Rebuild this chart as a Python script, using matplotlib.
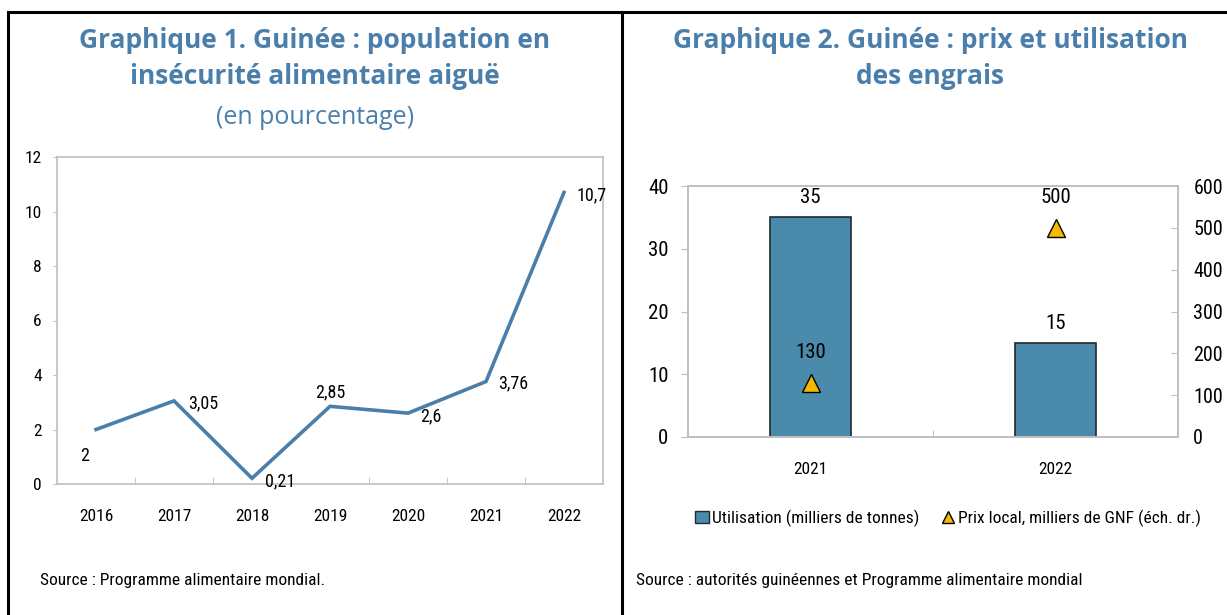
import matplotlib
matplotlib.use("Agg")
import matplotlib.pyplot as plt
import matplotlib.font_manager as fm
from matplotlib.lines import Line2D
from matplotlib.patches import Patch

# graphique 1
years1 = ["2016", "2017", "2018", "2019", "2020", "2021", "2022"]
insecurity = [2, 3.05, 0.21, 2.85, 2.6, 3.76, 10.7]
insecurity_labels = ["2", "3,05", "0,21", "2,85", "2,6", "3,76", "10,7"]

# graphique 2
years2 = ["2021", "2022"]
usage = [35, 15]
price = [130, 500]

TITLE_COLOR = "#4a7fab"
LINE_COLOR = "#4a7fab"
BAR_COLOR = "#4a8aaa"
TRI_COLOR = "#f5b800"
SPINE_COLOR = "#bfbfbf"
TITLE_FONT = ["Open Sans", "DejaVu Sans"]


def find_narrow():
    # look for some condensed sans face; the reference uses an Arial Narrow look
    entries = fm.fontManager.ttflist
    wanted = ["Liberation Sans Narrow", "Arial Narrow", "Roboto Condensed",
              "Open Sans Condensed", "Noto Sans Condensed", "DejaVu Sans Condensed"]
    for w in wanted:
        for f in entries:
            if f.name == w and f.weight in (400, "normal", "regular") and f.style == "normal":
                return f.fname
    for f in entries:
        low = (f.name + " " + f.fname).lower()
        if ("narrow" in low or "condensed" in low) and "bold" not in low \
                and "italic" not in low and "oblique" not in low:
            return f.fname
    return None


NARROW_PATH = find_narrow()


def narrow(size):
    if NARROW_PATH:
        return fm.FontProperties(fname=NARROW_PATH, size=size)
    return fm.FontProperties(family="DejaVu Sans", stretch="condensed", size=size)


W, H = 1227, 615
fig = plt.figure(figsize=(W / 100, H / 100), dpi=100)


def px_axes(x0, y0, x1, y1):
    return fig.add_axes([x0 / W, 1 - y1 / H, (x1 - x0) / W, (y1 - y0) / H])


def style_axes(ax):
    for s in ax.spines.values():
        s.set_color(SPINE_COLOR)
        s.set_linewidth(1.2)
    ax.tick_params(colors=SPINE_COLOR, labelcolor="black", length=4)


def set_tick_font(labels, size):
    for lab in labels:
        lab.set_fontproperties(narrow(size))


# frame lines
frame = fig.add_axes([0, 0, 1, 1])
frame.set_xlim(0, W)
frame.set_ylim(H, 0)
frame.axis("off")
frame.plot([8, W], [12, 12], color="black", lw=2.2)
frame.plot([8, 8], [12, H], color="black", lw=2.2)
frame.plot([622, 622], [12, H], color="black", lw=2.2)

# titles
title_kw = dict(ha="center", va="center", fontsize=19, fontweight="bold",
                color=TITLE_COLOR, family=TITLE_FONT)
fig.text(315 / W, 1 - 40 / H, "Graphique 1. Guinée : population en", **title_kw)
fig.text(315 / W, 1 - 76 / H, "insécurité alimentaire aiguë", **title_kw)
fig.text(315 / W, 1 - 118 / H, "(en pourcentage)", ha="center", va="center",
         fontsize=18, color=TITLE_COLOR, family=TITLE_FONT)
fig.text(930 / W, 1 - 40 / H, "Graphique 2. Guinée : prix et utilisation", **title_kw)
fig.text(930 / W, 1 - 76 / H, "des engrais", **title_kw)

# sources
fig.text(40 / W, 1 - 580 / H, "Source : Programme alimentaire mondial.", ha="left", va="center",
         fontproperties=narrow(12.5))
fig.text(636 / W, 1 - 580 / H, "Source : autorités guinéennes et Programme alimentaire mondial",
         ha="left", va="center", fontproperties=narrow(12.5))

# --- chart 1: line
ax1 = px_axes(57, 157, 603, 484)
x1 = list(range(len(years1)))
ax1.plot(x1, insecurity, color=LINE_COLOR, lw=2.6, solid_joinstyle="miter")
ax1.set_xlim(-0.5, len(years1) - 0.5)
ax1.set_ylim(0, 12)
ax1.set_yticks(range(0, 13, 2))
ax1.set_xticks(x1)
ax1.set_xticklabels(years1)
ax1.set_xticks([i + 0.5 for i in x1[:-1]], minor=True)
style_axes(ax1)
ax1.tick_params(axis="x", which="major", length=0, pad=18)
ax1.tick_params(axis="x", which="minor", length=5, direction="in", colors=SPINE_COLOR)
ax1.tick_params(axis="y", length=3, direction="out", pad=8)
set_tick_font(ax1.get_xticklabels() + ax1.get_yticklabels(), 12.5)
offsets = [(-8, -19), (10, -2), (9, -2), (0, 10), (9, -2), (9, -1), (9, -2)]
for xi, yi, lab, (dx, dy) in zip(x1, insecurity, insecurity_labels, offsets):
    ha = "center" if dx <= 0 else "left"
    ax1.annotate(lab, (xi, yi), xytext=(dx, dy), textcoords="offset points",
                 ha=ha, va="center", fontproperties=narrow(13))

# --- chart 2: bars + triangles
ax2 = px_axes(688, 186, 1178, 437)
x2 = list(range(len(years2)))
ax2.bar(x2, usage, width=0.33, color=BAR_COLOR, edgecolor="#1f2a33", linewidth=1.2, zorder=2)
ax2.set_xlim(-0.5, len(years2) - 0.5)
ax2.set_ylim(0, 40)
ax2.set_yticks(range(0, 41, 10))
ax2.set_xticks(x2)
ax2.set_xticklabels(years2)
ax2.set_xticks([0.5], minor=True)
style_axes(ax2)
ax2.tick_params(axis="x", which="major", length=0, pad=18)
ax2.tick_params(axis="x", which="minor", length=5, direction="in", colors=SPINE_COLOR)
ax2.tick_params(axis="y", length=5, direction="out", pad=9)
set_tick_font(ax2.get_xticklabels(), 12.5)
set_tick_font(ax2.get_yticklabels(), 15)
for xi, v in zip(x2, usage):
    ax2.annotate(str(v), (xi, v), xytext=(0, 14), textcoords="offset points",
                 ha="center", va="center", fontproperties=narrow(15))

ax2r = ax2.twinx()
ax2r.set_ylim(0, 600)
ax2r.set_yticks(range(0, 601, 100))
ax2r.plot(x2, price, linestyle="none", marker="^", markersize=13,
          markerfacecolor=TRI_COLOR, markeredgecolor="black", markeredgewidth=1, zorder=3)
style_axes(ax2r)
ax2r.tick_params(axis="y", length=5, direction="in", pad=11)
set_tick_font(ax2r.get_yticklabels(), 14.5)
for xi, v in zip(x2, price):
    ax2r.annotate(str(v), (xi, v), xytext=(0, 22), textcoords="offset points",
                  ha="center", va="center", fontproperties=narrow(15))

handles = [
    Patch(facecolor=BAR_COLOR, edgecolor="#1f2a33", label="Utilisation (milliers de tonnes)"),
    Line2D([], [], linestyle="none", marker="^", markersize=9, markerfacecolor=TRI_COLOR,
           markeredgecolor="black", label="Prix local, milliers de GNF (éch. dr.)"),
]
fig.legend(handles=handles, loc="center", bbox_to_anchor=(948 / W, 1 - 518 / H), ncol=2,
           frameon=False, prop=narrow(12.5), handlelength=0.8,
           handletextpad=0.2, columnspacing=1.2, borderpad=0)

fig.savefig("out.png", dpi=100)
